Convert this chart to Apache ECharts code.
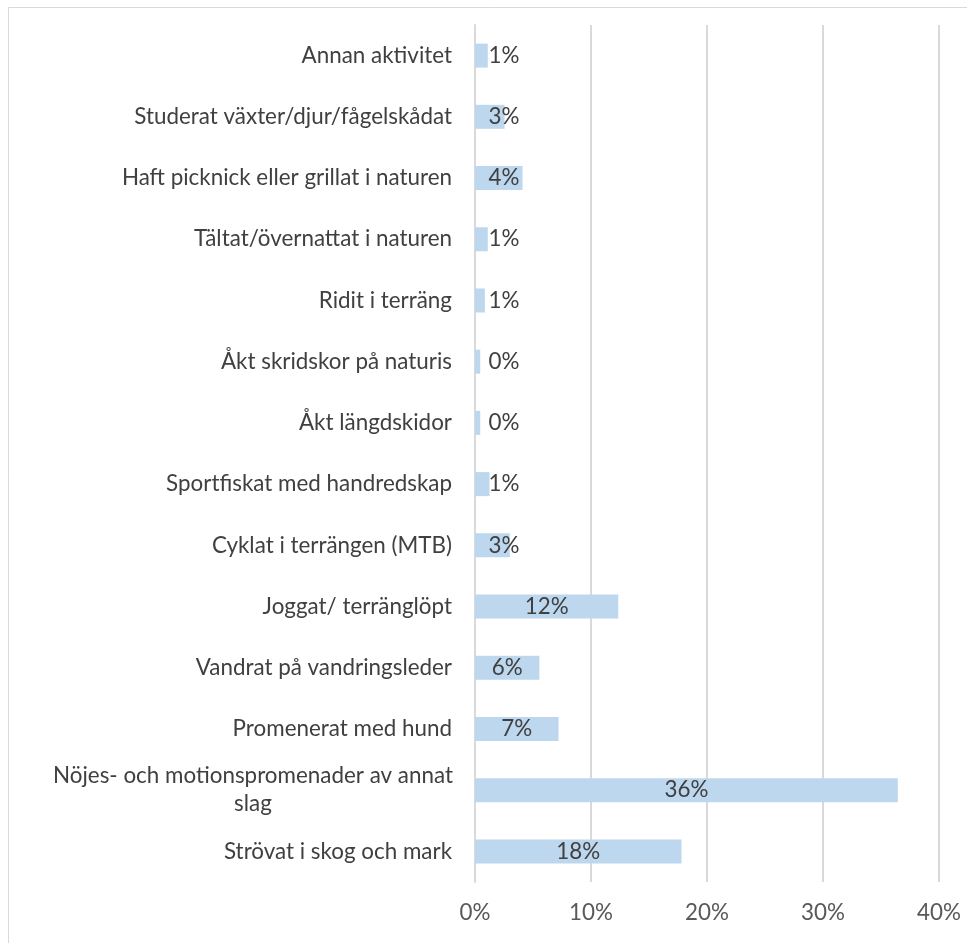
<!DOCTYPE html>
<html>
<head>
<meta charset="utf-8">
<script src="https://cdn.jsdelivr.net/npm/echarts@6/dist/echarts.min.js"></script>
<style>
html,body{margin:0;padding:0;background:#fff;}
#chart{width:967px;height:943px;}
</style>
</head>
<body>
<div id="chart"></div>
<script>
// Categories listed top to bottom
const categories = [
  "Annan aktivitet",
  "Studerat växter/djur/fågelskådat",
  "Haft picknick eller grillat i naturen",
  "Tältat/övernattat i naturen",
  "Ridit i terräng",
  "Åkt skridskor på naturis",
  "Åkt längdskidor",
  "Sportfiskat med handredskap",
  "Cyklat i terrängen (MTB)",
  "Joggat/ terränglöpt",
  "Vandrat på vandringsleder",
  "Promenerat med hund",
  "Nöjes- och motionspromenader av annat slag",
  "Strövat i skog och mark"
];
// Share of respondents, percent
const values = [1.1, 2.55, 4.1, 1.1, 0.85, 0.45, 0.45, 1.25, 3.0, 12.35, 5.55, 7.2, 36.45, 17.8];
const xTicks = [0, 10, 20, 30, 40];

const FONT = 'Lato, sans-serif';
const FS = 22.4;
const chart = echarts.init(document.getElementById('chart'), null, {renderer: 'canvas'});

const seriesData = values.map(v => {
  const item = {value: v};
  if (v < 5.5) {
    item.label = {position: [29, '50%'], align: 'center', verticalAlign: 'middle'};
  }
  return item;
});

chart.setOption({
  animation: false,
  backgroundColor: '#ffffff',
  graphic: [{
    type: 'rect',
    shape: {x: 8.5, y: 7.5, width: 1000, height: 1000},
    style: {fill: 'none', stroke: '#d9d9d9', lineWidth: 1},
    silent: true, z: -10
  }],
  grid: {left: 475, right: 28, top: 25, bottom: 61, containLabel: false},
  xAxis: {
    type: 'value',
    min: xTicks[0],
    max: xTicks[xTicks.length - 1],
    interval: 10,
    axisLine: {show: false},
    axisTick: {show: false},
    splitLine: {show: true, lineStyle: {color: '#d9d9d9', width: 2}},
    axisLabel: {
      margin: 20,
      color: '#595959',
      fontFamily: FONT,
      fontSize: FS,
      formatter: v => v + '%'
    }
  },
  yAxis: {
    type: 'category',
    inverse: true,
    data: categories,
    axisLine: {show: true, lineStyle: {color: '#d9d9d9', width: 2}},
    axisTick: {show: false},
    axisLabel: {
      margin: 23,
      color: '#404040',
      fontFamily: FONT,
      fontSize: FS,
      lineHeight: 28,
      formatter: function (v) {
        if (v === "Nöjes- och motionspromenader av annat slag") {
          return '{w|Nöjes- och motionspromenader av annat}\n{w|slag}';
        }
        return v;
      },
      rich: {
        w: {width: 398, align: 'center', fontFamily: FONT, fontSize: FS, color: '#404040', lineHeight: 28}
      }
    }
  },
  series: [{
    type: 'bar',
    data: seriesData,
    barWidth: 24,
    itemStyle: {color: '#bdd7ee'},
    label: {
      show: true,
      position: 'inside',
      color: '#404040',
      fontFamily: FONT,
      fontSize: FS,
      formatter: p => Math.round(p.value) + '%'
    }
  }]
});
</script>
</body>
</html>
